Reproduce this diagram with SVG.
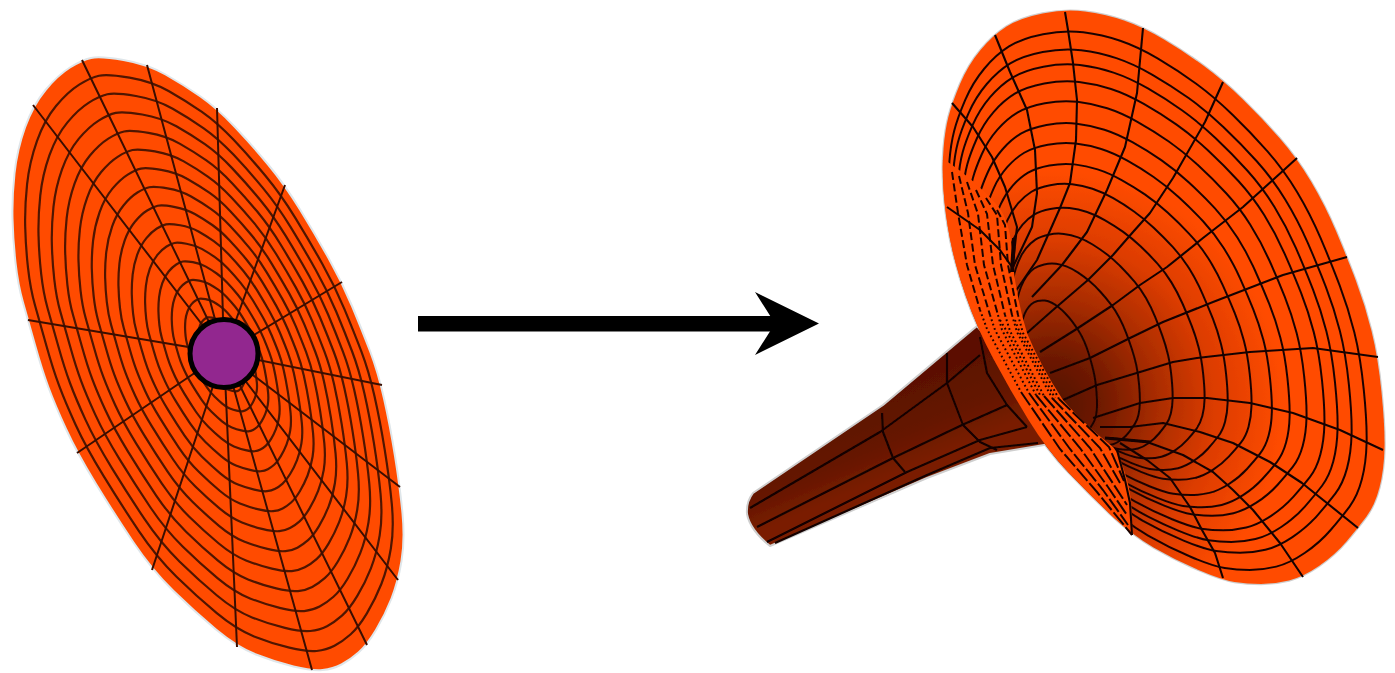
<svg xmlns="http://www.w3.org/2000/svg" width="1395" height="673" viewBox="0 0 1395 673">
<style>
.nss{vector-effect:non-scaling-stroke}
.ringL{fill:none;stroke:#501500;stroke-width:2.2}
.spokeL{fill:none;stroke:#3a0f00;stroke-width:2}
.ringR{fill:none;stroke:#1c0500;stroke-width:2}
.dash{fill:none;stroke:#1c0500;stroke-width:2;stroke-dasharray:8 3.5}
.dot{fill:none;stroke:#1c0500;stroke-width:2;stroke-dasharray:1.8 2.8}
.long{fill:none;stroke:#1c0500;stroke-width:2;stroke-dasharray:16 3}
.spokeR{fill:none;stroke:#140400;stroke-width:2.1;stroke-linejoin:round}
.tail{fill:none;stroke:#120300;stroke-width:2.1;stroke-linejoin:round}
</style>
<defs>
<filter id="soft" x="-5%" y="-5%" width="110%" height="110%"><feGaussianBlur stdDeviation="0.55"/></filter>
<path id="rimL" class="nss" transform="translate(-224 -353)" d="M91,58 Q100,56 123.5,60 Q147,64 165.5,74.5 Q184,85 200.5,96.5 Q217,108 234.5,126.5 Q252,145 268.5,165 Q285,185 300,209.5 Q315,234 328.5,258 Q342,282 352,306 Q362,330 370,351 Q378,372 384,398.5 Q390,425 395,456 Q400,487 402.5,513.5 Q405,540 401.5,561 Q398,582 391.5,598.5 Q385,615 376,630 Q367,645 358.5,652.5 Q350,660 341.5,664.5 Q333,669 322.5,670 Q312,671 293.5,666.5 Q275,662 256,654.5 Q237,647 216,629.5 Q195,612 173.5,591 Q152,570 133.5,542.5 Q115,515 96,484 Q77,453 66,429 Q55,405 48.5,387.5 Q42,370 35,345 Q28,320 23,302.5 Q18,285 15.5,262.5 Q13,240 12.5,218.5 Q12,197 14.5,173.5 Q17,150 25,127.5 Q33,105 45.5,90 Q58,75 70,67.5 Q82,60 91,58 Z"/>
<path id="rimR" class="nss" transform="translate(-942 -9)" d="M1042.5,13.5 Q1065,9 1085,11.5 Q1105,14 1124,20.5 Q1143,27 1164,39.5 Q1185,52 1204,66 Q1223,80 1242.5,99 Q1262,118 1279.5,138 Q1297,158 1311,181.5 Q1325,205 1336,231 Q1347,257 1356,281 Q1365,305 1371.5,331 Q1378,357 1381.5,392 Q1385,427 1384.5,448.5 Q1384,470 1379.5,487.5 Q1375,505 1366.5,516.5 Q1358,528 1346.5,541.5 Q1335,555 1319,566 Q1303,577 1289,580.5 Q1275,584 1261,584 Q1247,584 1234.5,582 Q1222,580 1198.5,570 Q1175,560 1153.5,547.5 Q1132,535 1111,515 Q1090,495 1068.5,472.5 Q1047,450 1028.5,420 Q1010,390 993.5,359 Q977,328 966,296.5 Q955,265 950,239 Q945,213 943.5,190 Q942,167 943.5,148.5 Q945,130 948.5,116.5 Q952,103 960,84 Q968,65 980.5,50 Q993,35 1006.5,26.5 Q1020,18 1042.5,13.5 Z"/>
<path id="bandShape" d="M945,160 L925,160 L915,220 L950,340 L1030,480 L1132,560 L1132,535 Q1133,500 1127,480 Q1120,455 1113,447 Q1085,425 1063,400 Q1040,365 1027,333 Q1017,300 1013,265 Q1012,222 997,205 Q975,180 945,160 Z"/>
<clipPath id="clipRim"><use href="#rimR" transform="translate(942 9)"/></clipPath>
<radialGradient id="throat" gradientUnits="userSpaceOnUse" cx="1050" cy="405" r="235">
<stop offset="0" stop-color="#500f00"/>
<stop offset=".22" stop-color="#701a00"/>
<stop offset=".45" stop-color="#a82c00"/>
<stop offset=".7" stop-color="#dc3c00"/>
<stop offset="1" stop-color="#ff4c00"/>
</radialGradient>
<linearGradient id="tailFill" gradientUnits="userSpaceOnUse" x1="850" y1="410" x2="880" y2="480">
<stop offset="0" stop-color="#5c1100"/>
<stop offset=".6" stop-color="#661500"/>
<stop offset="1" stop-color="#7a1f00"/>
</linearGradient>
</defs>

<g id="flat-disk">
<g filter="url(#soft)">
<g transform="translate(224 353)">
<use href="#rimL" fill="#ff4c00" stroke="#dfe6ea" stroke-width="2"/>
<g class="ringL">
<use href="#rimL" transform="scale(.94)"/>
<use href="#rimL" transform="scale(.877)"/>
<use href="#rimL" transform="scale(.814)"/>
<use href="#rimL" transform="scale(.751)"/>
<use href="#rimL" transform="scale(.688)"/>
<use href="#rimL" transform="scale(.625)"/>
<use href="#rimL" transform="scale(.562)"/>
<use href="#rimL" transform="scale(.499)"/>
<use href="#rimL" transform="scale(.436)"/>
<use href="#rimL" transform="scale(.373)"/>
<use href="#rimL" transform="scale(.31)"/>
<use href="#rimL" transform="scale(.247)"/>
<use href="#rimL" transform="scale(.184)"/>
<use href="#rimL" transform="scale(.121)"/>
</g>
</g>
<path class="spokeL" d="M82,60L224,353M147,65L224,353M217,108L224,353M285,185L224,353M342,282L224,353M382,385L224,353M400,487L224,353M398,580L224,353M367,645L224,353M312,670L224,353M237,647L224,353M152,570L224,353M77,453L224,353M28,320L224,353M33,105L224,353"/>
</g>
<circle id="hub" cx="224" cy="353.5" r="34" fill="#92278f" stroke="#000" stroke-width="5"/>
</g>

<g id="arrow" fill="#000">
<rect x="418" y="316" width="360" height="15.5"/>
<polygon points="819,323.5 755,355 775,323.5 755,292"/>
</g>

<g id="horn" filter="url(#soft)">
<use href="#rimR" transform="translate(942 9)" fill="none" stroke="#cfcfcf" stroke-width="2.4"/>
<g id="horn-tail">
<path d="M977,326 L883,405 L753,493 Q746,502 747,514 Q750,530 770,546 L927,478 L990,454 L1050,444 L1040,400 Z" fill="url(#tailFill)" stroke="#cfcfcf" stroke-width="2" stroke-linejoin="round"/>
<polyline class="tail" points="750,508 880,432 947,383 980,355"/>
<polyline class="tail" points="757,527 893,458 962,425 1007,405"/>
<polyline class="tail" points="767,542 907,472 980,440 1027,427"/>
<polyline class="tail" points="775,543 927,475 990,448 1038,443"/>
<polyline class="tail" points="947,353 947,383 963,425 980,442 997,450"/>
<polyline class="tail" points="882,413 883,432 893,458 905,472"/>
<polyline class="tail" points="980,337 987,373 1007,405 1027,427"/>
</g>
<g id="horn-bell">
<use href="#rimR" transform="translate(942 9)" fill="url(#throat)"/>
<g class="ringR">
<use href="#rimR" transform="translate(948 30) scale(.946 .939)"/>
<use href="#rimR" transform="translate(952 48) scale(.903 .878)"/>
<use href="#rimR" transform="translate(957 63) scale(.86 .833)"/>
<use href="#rimR" transform="translate(962 80) scale(.819 .783)"/>
<use href="#rimR" transform="translate(968 100) scale(.765 .723)"/>
<use href="#rimR" transform="translate(975 122) scale(.711 .67)"/>
<use href="#rimR" transform="translate(982 142) scale(.655 .614)"/>
<use href="#rimR" transform="translate(990 163) scale(.591 .551)"/>
<use href="#rimR" transform="translate(998 183) scale(.519 .499)"/>
<use href="#rimR" transform="translate(1005 207) scale(.451 .437)"/>
<use href="#rimR" transform="translate(1012 233) scale(.363 .377)"/>
<use href="#rimR" transform="translate(1016 263) scale(.28 .317)"/>
<use href="#rimR" transform="translate(1020 300) scale(.174 .24)"/>
</g>
<g class="spokeR">
<polyline points="1065,12 1068,30 1073,63 1077,100 1076,140 1070,183 1060,208 1037,260 1013,295"/>
<polyline points="1143,28 1137,93 1125,147 1107,190 1087,232 1062,265 1032,297"/>
<polyline points="1223,82 1205,122 1173,178 1150,213 1133,232 1113,255 1088,280 1053,310 1027,333"/>
<polyline points="1297,158 1285,169 1243,207 1203,238 1167,267 1140,285 1113,305 1075,330 1040,352"/>
<polyline points="1347,257 1283,275 1213,302 1163,322 1130,338 1090,358 1050,373"/>
<polyline points="1378,357 1313,348 1250,352 1197,358 1173,362 1140,372 1097,385 1063,400"/>
<polyline points="1383,450 1340,430 1293,413 1250,403 1207,398 1173,398 1140,403 1093,418"/>
<polyline points="1358,528 1302,483 1270,462 1233,443 1200,432 1163,423 1130,427 1100,427"/>
<polyline points="1303,577 1280,543 1253,510 1233,490 1213,472 1183,455 1147,442 1110,438"/>
<polyline points="1223,578 1215,553 1202,530 1190,507 1170,478 1147,460 1120,443"/>
<polyline points="995,35 1010,72 1027,110 1035,150 1037,193 1032,227 1013,267"/>
</g>
<use href="#bandShape" fill="#ff4c00" clip-path="url(#clipRim)"/>
<g class="dash">
<polyline points="952,172 958,213 967,265 980,310"/>
<polyline points="959,176 968,213 975,265 990,315"/>
<polyline points="967,182 978,214 984,265 998,315"/>
<polyline points="976,190 987,214 993,265 1005,315"/>
<polyline points="986,198 997,215 1001,265 1012,315"/>
<polyline points="997,210 1005,225 1008,265 1018,315"/>
</g>
<g class="dot">
<polyline points="980,310 987,329 1021,392"/>
<polyline points="990,315 995,330 1029,393"/>
<polyline points="998,315 1002,330 1036,395"/>
<polyline points="1005,315 1010,331 1044,396"/>
<polyline points="1012,315 1017,332 1052,398"/>
<polyline points="1018,315 1023,333 1059,399"/>
<polyline points="1000,320 1006,330 1040,395"/>
<polyline points="1015,320 1020,333 1055,398"/>
</g>
<g class="long">
<polyline points="1021,392 1060,449 1097,492 1132,535"/>
<polyline points="1029,393 1070,449 1103,490 1128,525"/>
<polyline points="1036,395 1080,448 1108,487 1127,515"/>
<polyline points="1044,396 1090,448 1114,485 1127,505"/>
<polyline points="1052,398 1100,448 1120,483"/>
<polyline points="1059,399 1109,447 1124,481"/>
</g>
<g class="spokeR">
<polyline points="952,103 973,127 992,157 1005,187 1017,227 1013,263"/>
<polyline points="947,207 980,230 1000,250 1012,267"/>
<polyline points="1132,535 1130,503 1125,480 1117,450"/>
<polyline points="1014,238 1012,272" stroke-width="4"/>
<polyline points="1105,438 1150,442" stroke-width="3"/>
</g>
</g>
</g>
</svg>
